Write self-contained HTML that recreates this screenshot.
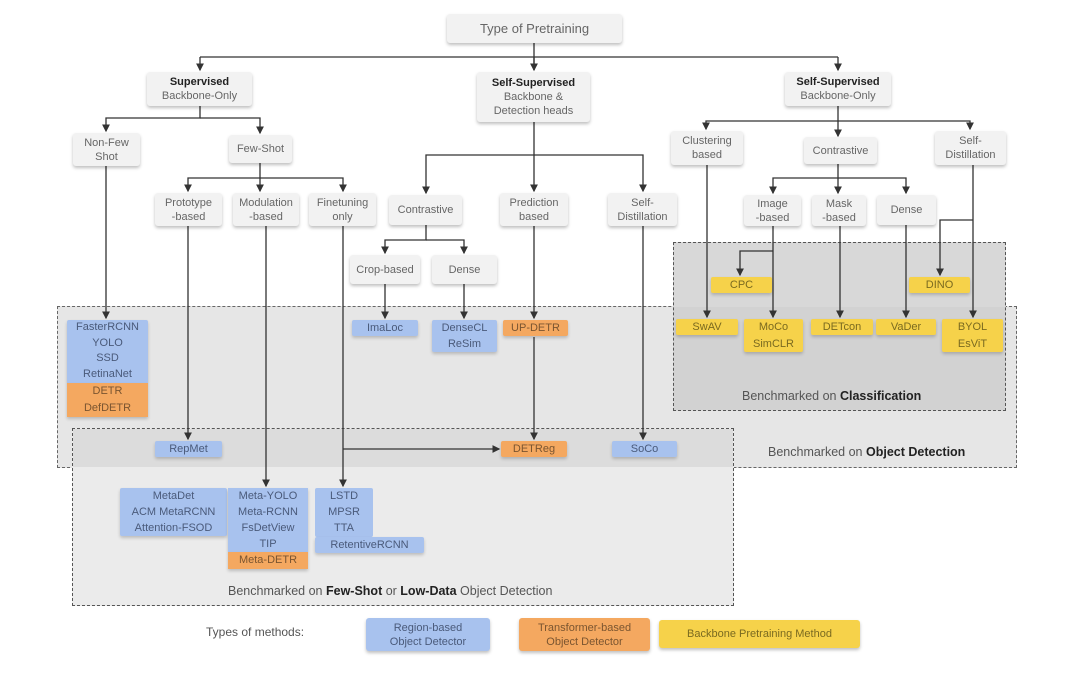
<!DOCTYPE html>
<html><head><meta charset="utf-8"><style>
body{margin:0;width:1080px;height:676px;background:#fff;position:relative;overflow:hidden;font-family:"Liberation Sans",sans-serif;color:#555}
.r{position:absolute}
.n{position:absolute;background:#f2f2f2;border-radius:3px;box-shadow:0 2px 3px rgba(0,0,0,.25);display:flex;align-items:center;justify-content:center;text-align:center;font-size:11px;line-height:14px;color:#666}
.b{background:#a8c2ee;color:#4a5a7a}
.o{background:#f4a860;color:#7a5530}
.y{background:#f6d24a;color:#7a6a20}
.c{position:absolute;font-size:11px;line-height:16px;text-align:center;box-shadow:0 2px 3px rgba(0,0,0,.2);border-radius:2px}
.lab{position:absolute;font-size:12.5px;color:#555;white-space:nowrap}
b{color:#222}
</style></head><body>
<!-- regions -->
<div class="r" style="left:57px;top:306px;width:960px;height:162px;background:#e6e6e6;border:1px dashed #666;box-sizing:border-box"></div>
<div class="r" style="left:673px;top:242px;width:333px;height:169px;background:#d8d8d8;border:1px dashed #555;box-sizing:border-box"></div>
<div class="r" style="left:72px;top:428px;width:662px;height:178px;background:#ebebeb;border:1px dashed #555;box-sizing:border-box"></div>
<div class="r" style="left:73px;top:429px;width:660px;height:38px;background:#dcdcdc"></div>
<div class="r" style="left:674px;top:307px;width:331px;height:103px;background:#d2d2d2"></div>

<svg class="r" style="left:0;top:0" width="1080" height="676">
<defs><marker id="a" markerWidth="6" markerHeight="6" refX="5" refY="3" orient="auto"><path d="M0,0L6,3L0,6z" fill="#333"/></marker></defs>
<g stroke="#333" stroke-width="1.3" fill="none">
<path d="M534,43V70M200,57H838"/><path d="M200,57V70" marker-end="url(#a)"/><path d="M838,57V70" marker-end="url(#a)"/><path d="M534,57V70" marker-end="url(#a)"/>
<path d="M200,106V118H106V131" marker-end="url(#a)"/><path d="M200,118H260V133" marker-end="url(#a)"/>
<path d="M260,163V178H188V191" marker-end="url(#a)"/><path d="M260,178V191" marker-end="url(#a)"/><path d="M260,178H343V191" marker-end="url(#a)"/>
<path d="M534,122V155H426V193" marker-end="url(#a)"/><path d="M534,155V191" marker-end="url(#a)"/><path d="M534,155H643V191" marker-end="url(#a)"/>
<path d="M426,225V240H385V253" marker-end="url(#a)"/><path d="M426,240H464V253" marker-end="url(#a)"/>
<path d="M838,106V121H706V129" marker-end="url(#a)"/><path d="M838,121V136" marker-end="url(#a)"/><path d="M838,121H970V129" marker-end="url(#a)"/>
<path d="M838,163V178H773V193" marker-end="url(#a)"/><path d="M838,178V193" marker-end="url(#a)"/><path d="M838,178H906V193" marker-end="url(#a)"/>
<path d="M707,165V317" marker-end="url(#a)"/><path d="M773,226V317" marker-end="url(#a)"/><path d="M773,251H740V275" marker-end="url(#a)"/>
<path d="M840,226V317" marker-end="url(#a)"/><path d="M906,225V317" marker-end="url(#a)"/>
<path d="M973,165V317" marker-end="url(#a)"/><path d="M973,220H940V275" marker-end="url(#a)"/>
<path d="M106,166V318" marker-end="url(#a)"/><path d="M385,284V318" marker-end="url(#a)"/><path d="M464,284V318" marker-end="url(#a)"/>
<path d="M534,226V318" marker-end="url(#a)"/><path d="M534,337V439" marker-end="url(#a)"/>
<path d="M188,226V439" marker-end="url(#a)"/><path d="M266,226V486" marker-end="url(#a)"/>
<path d="M343,226V486" marker-end="url(#a)"/><path d="M343,449H499" marker-end="url(#a)"/>
<path d="M643,226V439" marker-end="url(#a)"/>
</g></svg>

<div class="n" style="left:447px;top:14px;width:175px;height:29px;font-size:13px">Type of Pretraining</div>
<div class="n" style="left:147px;top:72px;width:105px;height:34px"><span><b>Supervised</b><br>Backbone-Only</span></div>
<div class="n" style="left:477px;top:72px;width:113px;height:50px"><span><b>Self-Supervised</b><br>Backbone &amp;<br>Detection heads</span></div>
<div class="n" style="left:785px;top:72px;width:106px;height:34px"><span><b>Self-Supervised</b><br>Backbone-Only</span></div>
<div class="n" style="left:73px;top:133px;width:67px;height:33px">Non-Few<br>Shot</div>
<div class="n" style="left:229px;top:135px;width:63px;height:28px">Few-Shot</div>
<div class="n" style="left:155px;top:193px;width:67px;height:33px">Prototype<br>-based</div>
<div class="n" style="left:233px;top:193px;width:66px;height:33px">Modulation<br>-based</div>
<div class="n" style="left:309px;top:193px;width:67px;height:33px">Finetuning<br>only</div>
<div class="n" style="left:389px;top:195px;width:73px;height:30px">Contrastive</div>
<div class="n" style="left:500px;top:193px;width:68px;height:33px">Prediction<br>based</div>
<div class="n" style="left:608px;top:193px;width:69px;height:33px">Self-<br>Distillation</div>
<div class="n" style="left:350px;top:255px;width:70px;height:29px">Crop-based</div>
<div class="n" style="left:432px;top:255px;width:65px;height:29px">Dense</div>
<div class="n" style="left:671px;top:131px;width:72px;height:34px">Clustering<br>based</div>
<div class="n" style="left:804px;top:137px;width:73px;height:27px">Contrastive</div>
<div class="n" style="left:935px;top:131px;width:71px;height:34px">Self-<br>Distillation</div>
<div class="n" style="left:744px;top:195px;width:57px;height:31px">Image<br>-based</div>
<div class="n" style="left:812px;top:195px;width:54px;height:31px">Mask<br>-based</div>
<div class="n" style="left:877px;top:195px;width:59px;height:30px">Dense</div>

<div class="c y" style="left:711px;top:277px;width:61px">CPC</div>
<div class="c y" style="left:909px;top:277px;width:61px">DINO</div>
<div class="c y" style="left:676px;top:319px;width:62px">SwAV</div>
<div class="c y" style="left:744px;top:319px;width:59px;line-height:16.5px">MoCo<br>SimCLR</div>
<div class="c y" style="left:811px;top:319px;width:62px">DETcon</div>
<div class="c y" style="left:876px;top:319px;width:60px">VaDer</div>
<div class="c y" style="left:942px;top:319px;width:61px;line-height:16.5px">BYOL<br>EsViT</div>

<div class="c b" style="left:67px;top:320px;width:81px;line-height:15.7px;border-radius:2px 2px 0 0">FasterRCNN<br>YOLO<br>SSD<br>RetinaNet</div>
<div class="c o" style="left:67px;top:383px;width:81px;line-height:17px;border-radius:0">DETR<br>DefDETR</div>
<div class="c b" style="left:352px;top:320px;width:66px">ImaLoc</div>
<div class="c b" style="left:432px;top:320px;width:65px">DenseCL<br>ReSim</div>
<div class="c o" style="left:503px;top:320px;width:65px">UP-DETR</div>
<div class="c b" style="left:155px;top:441px;width:67px">RepMet</div>
<div class="c o" style="left:501px;top:441px;width:66px">DETReg</div>
<div class="c b" style="left:612px;top:441px;width:65px">SoCo</div>
<div class="c b" style="left:120px;top:488px;width:107px">MetaDet<br>ACM MetaRCNN<br>Attention-FSOD</div>
<div class="c b" style="left:228px;top:488px;width:80px;border-radius:0">Meta-YOLO<br>Meta-RCNN<br>FsDetView<br>TIP</div>
<div class="c o" style="left:228px;top:552px;width:80px;line-height:17px;border-radius:0">Meta-DETR</div>
<div class="c b" style="left:315px;top:488px;width:58px;height:49px;box-shadow:none">LSTD<br>MPSR<br>TTA</div>
<div class="c b" style="left:315px;top:537px;width:109px;line-height:16px">RetentiveRCNN</div>

<div class="lab" style="left:742px;top:389px">Benchmarked on <b>Classification</b></div>
<div class="lab" style="left:768px;top:445px">Benchmarked on <b>Object Detection</b></div>
<div class="lab" style="left:228px;top:584px">Benchmarked on <b>Few-Shot</b> or <b>Low-Data</b> Object Detection</div>

<div class="lab" style="left:206px;top:625px;font-size:12px">Types of methods:</div>
<div class="n b" style="left:366px;top:618px;width:124px;height:33px;font-size:11px">Region-based<br>Object Detector</div>
<div class="n o" style="left:519px;top:618px;width:131px;height:33px;font-size:11px">Transformer-based<br>Object Detector</div>
<div class="n y" style="left:659px;top:620px;width:201px;height:28px;font-size:11px">Backbone Pretraining Method</div>
</body></html>
